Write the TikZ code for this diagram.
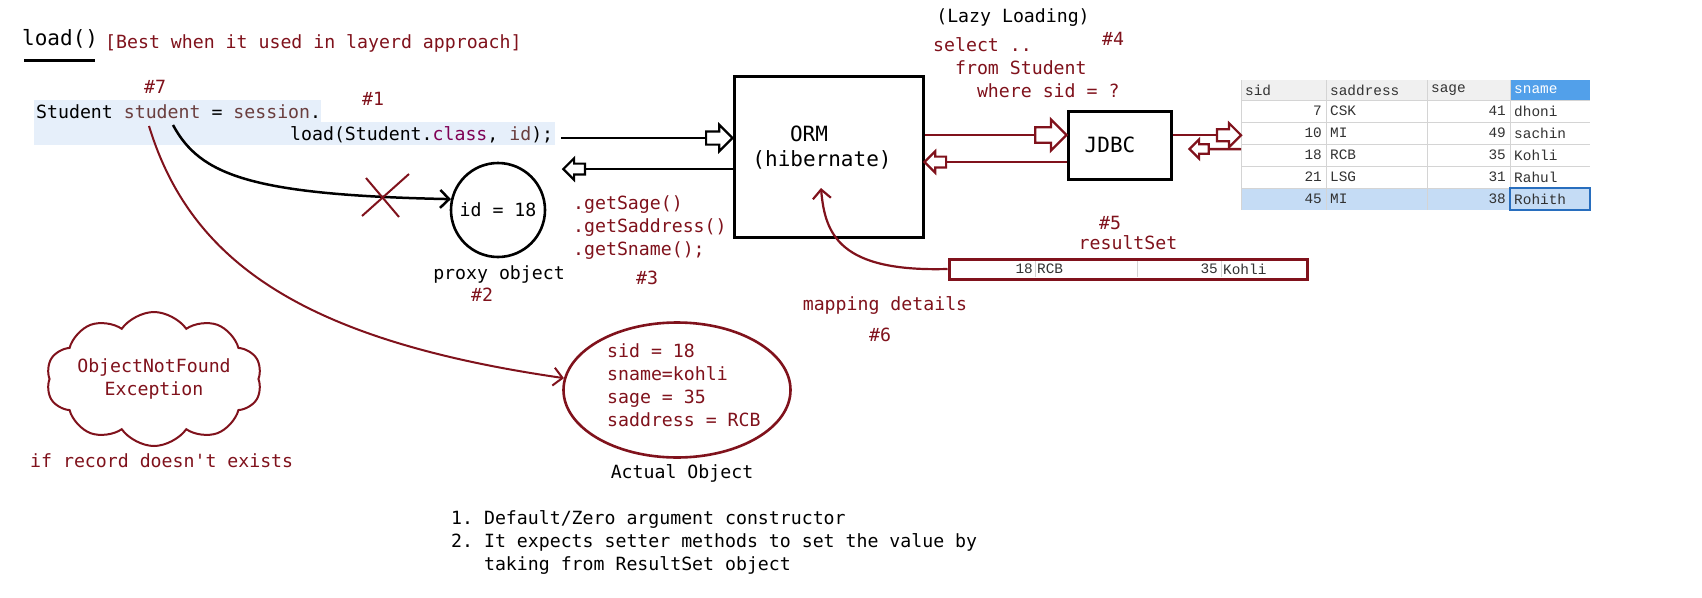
\documentclass[tikz,border=0pt]{standalone}
\usepackage{fontspec}
\setmonofont{DejaVu Sans Mono}
\newfontfamily\tblfont{Liberation Mono}
\usetikzlibrary{positioning,calc,shapes.geometric,shapes.symbols,arrows.meta}
\definecolor{dred}{RGB}{128,18,28}
\definecolor{hilite}{RGB}{230,239,250}
\definecolor{kwd}{RGB}{127,0,85}
\definecolor{lvar}{RGB}{106,62,62}
\definecolor{gridc}{RGB}{212,212,212}
\definecolor{hdr}{RGB}{240,240,240}
\definecolor{selrow}{RGB}{197,220,245}
\definecolor{selhdr}{RGB}{82,160,234}
\definecolor{selcell}{RGB}{40,110,190}
\definecolor{tbltext}{RGB}{50,50,50}
\newcommand{\codesize}{\ttfamily\fontsize{18.2}{23}\selectfont}
\newcommand{\bigsize}{\ttfamily\fontsize{21}{25}\selectfont}
\newcommand{\tblsize}{\tblfont\fontsize{14.4}{17}\selectfont}
\tikzset{
  every node/.style={font=\codesize, inner sep=0pt},
  note/.style={text=dred},
  box/.style={draw, line width=3pt},
  link/.style={line width=2.4pt},
  barb/.style={-{Straight Barb[length=9pt,width=18pt]}},
  cell/.style={font=\tblsize, text=tbltext},
  hollowhead/.pic={
    \draw[line width=2.2pt, fill=white, line join=miter]
      (0,0) -- (-12,-12) -- (-12,-6) -- (-24,-6) -- (-24,6) -- (-12,6) -- (-12,12) -- cycle;
  }
}
\begin{document}
\begin{tikzpicture}[x=1pt,y=-1pt]
  \useasboundingbox[fill=white] (0,0) rectangle (1702,597);

  \fill[hilite] (34,100) rectangle (321,145);
  \fill[hilite] (34,122) rectangle (555,145);

  \node[anchor=west, font=\bigsize] (load) at (22,39) {load()};
  \draw[line width=3pt] (24,60) -- (95,60);
  \node[note, anchor=west] (best) at (105,43) {[Best when it used in layerd approach]};
  \node[note] (n7) at (155,87) {\#7};
  \node[note] (n1) at (373,99) {\#1};
  \node[anchor=west] (line1) at (36,112) {Student \textcolor{lvar}{student} = \textcolor{lvar}{session}.};
  \node[anchor=west] (line2) at (290,135) {load(Student.\textcolor{kwd}{class}, \textcolor{lvar}{id});};

  \node[draw, circle, line width=2.6pt, minimum size=94pt] (pxy) at (498,210) {id = 18};
  \node (pxylbl) at (499,274) {proxy object};
  \node[note] (n2) at (482,295) {\#2};
  \node[note, anchor=west, align=left] (get) at (573,228) {.getSage()\\.getSaddress()\\.getSname();};
  \node[note] (n3) at (647,278) {\#3};

  \node[box, minimum width=189pt, minimum height=161pt] (orm) at (828.5,156.5) {};
  \node[font=\bigsize] (ormlbl) at (809,134) {ORM};
  \node[font=\bigsize] (hib) at (822,160) {(hibernate)};

  \node (lazy) at (1013,18) {(Lazy Loading)};
  \node[note, anchor=west, align=left] (sql) at (933,68) {select ..\\\phantom{fr}from Student\\\phantom{from}where sid = ?};
  \node[note] (n4) at (1113,39) {\#4};

  \node[box, minimum width=103pt, minimum height=68pt] (jdbc) at (1119.5,145) {};
  \node[font=\bigsize] (jdbclbl) at (1110,145) {JDBC};

  \node[minimum width=349pt, minimum height=130pt, anchor=north west] (tbl) at (1241,80) {};
  \fill[hdr] (1241,80) rectangle (1590,100);
  \fill[selhdr] (1510,80) rectangle (1590,100);
  \fill[selrow] (1241,188) rectangle (1590,210);
  \foreach \y in {100,122,144,166,188}
    \draw[gridc, line width=1pt] (1241,\y) -- (1590,\y);
  \foreach \x in {1241,1326,1427,1510}
    \draw[gridc, line width=1pt] (\x,80) -- (\x,210);
  \node[cell, anchor=west] at (1245,90) {sid};
  \node[cell, anchor=west] at (1330,90) {saddress};
  \node[cell, anchor=west] at (1431,90) {sage};
  \node[cell, anchor=west, text=white] at (1514,90) {sname};
  \foreach \s/\a/\g/\n [count=\i] in {7/CSK/41/dhoni,10/MI/49/sachin,18/RCB/35/Kohli,21/LSG/31/Rahul,45/MI/38/Rohith} {
    \node[cell, anchor=east] at (1322,{89+22*\i}) {\s};
    \node[cell, anchor=west] at (1330,{89+22*\i}) {\a};
    \node[cell, anchor=east] at (1506,{89+22*\i}) {\g};
    \node[cell, anchor=west] at (1514,{89+22*\i}) {\n};
  }
  \draw[selcell, line width=1.2pt] (1510,188) rectangle (1590,210);

  \node[draw=dred, line width=3pt, minimum width=358pt, minimum height=20pt] (rs) at (1128,269) {};
  \foreach \x in {1035,1137,1221}
    \draw[gridc, line width=1pt] (\x,261) -- (\x,277);
  \node[cell, anchor=east] at (1033,269) {18};
  \node[cell, anchor=west] at (1037,269) {RCB};
  \node[cell, anchor=east] at (1218,269) {35};
  \node[cell, anchor=west] at (1223,269) {Kohli};
  \node[note] (n5) at (1110,223) {\#5};
  \node[note] (rslbl) at (1128,243) {resultSet};

  \node[note] (map) at (885,305) {mapping details};
  \node[note] (n6) at (880,335) {\#6};

  \node[cloud, draw=dred, line width=2pt, cloud puffs=10, cloud puff arc=110, cloud ignores aspect,
        minimum width=205pt, minimum height=134pt, text=dred, align=center] (cloud) at (154,379) {ObjectNotFound\\Exception};
  \node[note, anchor=west] (ifrec) at (30,461) {if record doesn't exists};

  \node[ellipse, draw=dred, line width=2.6pt, minimum width=227pt, minimum height=135pt] (act) at (677,390) {};
  \node[note, anchor=west, align=left] (actxt) at (607,385.5) {sid = 18\\sname=kohli\\sage = 35\\saddress = RCB};
  \node (actlbl) at (682,473) {Actual Object};

  \node[anchor=west, align=left] (steps) at (451,542) {1. Default/Zero argument constructor\\2. It expects setter methods to set the value by\\\phantom{2. }taking from ResultSet object};

  \coordinate (a1) at (561,138);
  \draw[link, shorten >=25pt] (a1) -- (a1 -| orm.west) pic[pos=1, scale=1.1] {hollowhead};
  \coordinate (r1) at ($(orm.west)+(0,12.5)$);
  \coordinate (r2) at ($(pxy.east)+(17,0)$);
  \draw[link, shorten >=20pt] (r1) -- (r1 -| r2) pic[pos=1, rotate=180, scale=0.9] {hollowhead};

  \coordinate (q1) at ($(jdbc.west)+(0,-10)$);
  \coordinate (q2) at ($(jdbc.west)+(0,17)$);
  \draw[link, dred, shorten >=30pt] (q1 -| orm.east) -- (q1) pic[pos=1, dred, scale=1.3] {hollowhead};
  \draw[link, dred, shorten >=20pt] (q2) -- (q2 -| orm.east) pic[pos=1, rotate=180, dred, scale=0.9] {hollowhead};

  \coordinate (t1) at ($(tbl.west)+(0,-10)$);
  \coordinate (t2) at ($(tbl.west)+(0,4)$);
  \draw[link, dred, shorten >=23pt] (t1 -| jdbc.east) -- (t1) pic[pos=1, dred, scale=1.0] {hollowhead};
  \coordinate (t3) at ($(jdbc.east)+(17,4)$);
  \draw[link, dred, shorten >=18pt] (t2) -- (t3) pic[pos=1, rotate=180, dred, scale=0.8] {hollowhead};

  \coordinate (mapto) at (821,188);
  \draw[dred, line width=2.2pt, barb] (rs.west) .. controls (840,272) and (825,235) .. (mapto);

  \coordinate (stu1) at (173,125);
  \draw[line width=2.5pt, barb] (stu1) .. controls (200,175) and (250,195) .. (pxy.167);
  \coordinate (cross) at (385,196);
  \draw[dred, line width=2pt] ($(cross)+(-19,-18)$) -- ($(cross)+(14,21)$);
  \draw[dred, line width=2pt] ($(cross)+(24,-22)$) -- ($(cross)+(-23,20)$);

  \coordinate (stu2) at (149,126);
  \draw[dred, line width=2pt, barb] (stu2) .. controls (190,260) and (300,340) .. (act.174);
\end{tikzpicture}
\end{document}
